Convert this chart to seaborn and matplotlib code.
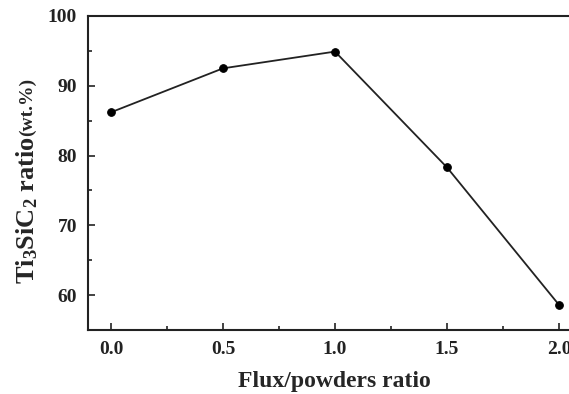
import numpy as np
import matplotlib
matplotlib.use("Agg")
import matplotlib.pyplot as plt
import seaborn as sns
from matplotlib.ticker import MultipleLocator

sns.set_style("ticks")
plt.rcParams['font.family'] = ['Liberation Serif', 'DejaVu Serif']
plt.rcParams['mathtext.fontset'] = 'custom'
plt.rcParams['mathtext.rm'] = 'Liberation Serif:bold'
plt.rcParams['mathtext.it'] = 'Liberation Serif:bold'
plt.rcParams['mathtext.bf'] = 'Liberation Serif:bold'

flux_ratio = [0.0, 0.5, 1.0, 1.5, 2.0]
ti3sic2 = [86.2, 92.5, 94.9, 78.3, 58.6]

W, H = 569, 394
fig = plt.figure(figsize=(W / 100, H / 100), dpi=100)
# right spine runs off the image edge in the original
ax = fig.add_axes([88 / W, 64 / H, (580 - 88) / W, 314 / H])

sns.lineplot(x=flux_ratio, y=ti3sic2, ax=ax, color="#222222", linewidth=1.3,
             marker="o", markersize=5.5, markerfacecolor="black",
             markeredgecolor="black")

ax.set_xlim(-0.1027, -0.1027 + (580 - 88) / 224)
ax.set_ylim(55, 100)
ax.xaxis.set_major_locator(MultipleLocator(0.5))
ax.xaxis.set_minor_locator(MultipleLocator(0.25))
ax.yaxis.set_major_locator(MultipleLocator(10))
ax.yaxis.set_minor_locator(MultipleLocator(5))
ax.set_yticks([60, 70, 80, 90, 100])
ax.tick_params(which="both", direction="in", width=1.2, colors="#222222")
ax.tick_params(which="major", length=5, labelsize=14, pad=8)
ax.tick_params(which="minor", length=3)
for lbl in ax.get_xticklabels() + ax.get_yticklabels():
    lbl.set_fontweight("bold")
for sp in ax.spines.values():
    sp.set_linewidth(1.5)
    sp.set_color("#222222")

ax.set_xlabel("Flux/powders ratio", fontsize=17, fontweight="bold", labelpad=9)

main = fig.text(27 / W, (394 - 284) / H, "Ti$_3$SiC$_2$ ratio", rotation=90,
                fontsize=19, fontweight="bold", ha="center", va="bottom")
ax.annotate("(wt.%)", xy=(0.5, 1.0), xycoords=main, rotation=90,
            fontsize=14, fontweight="bold", ha="center", va="bottom")

fig.savefig("out.png", dpi=100)
